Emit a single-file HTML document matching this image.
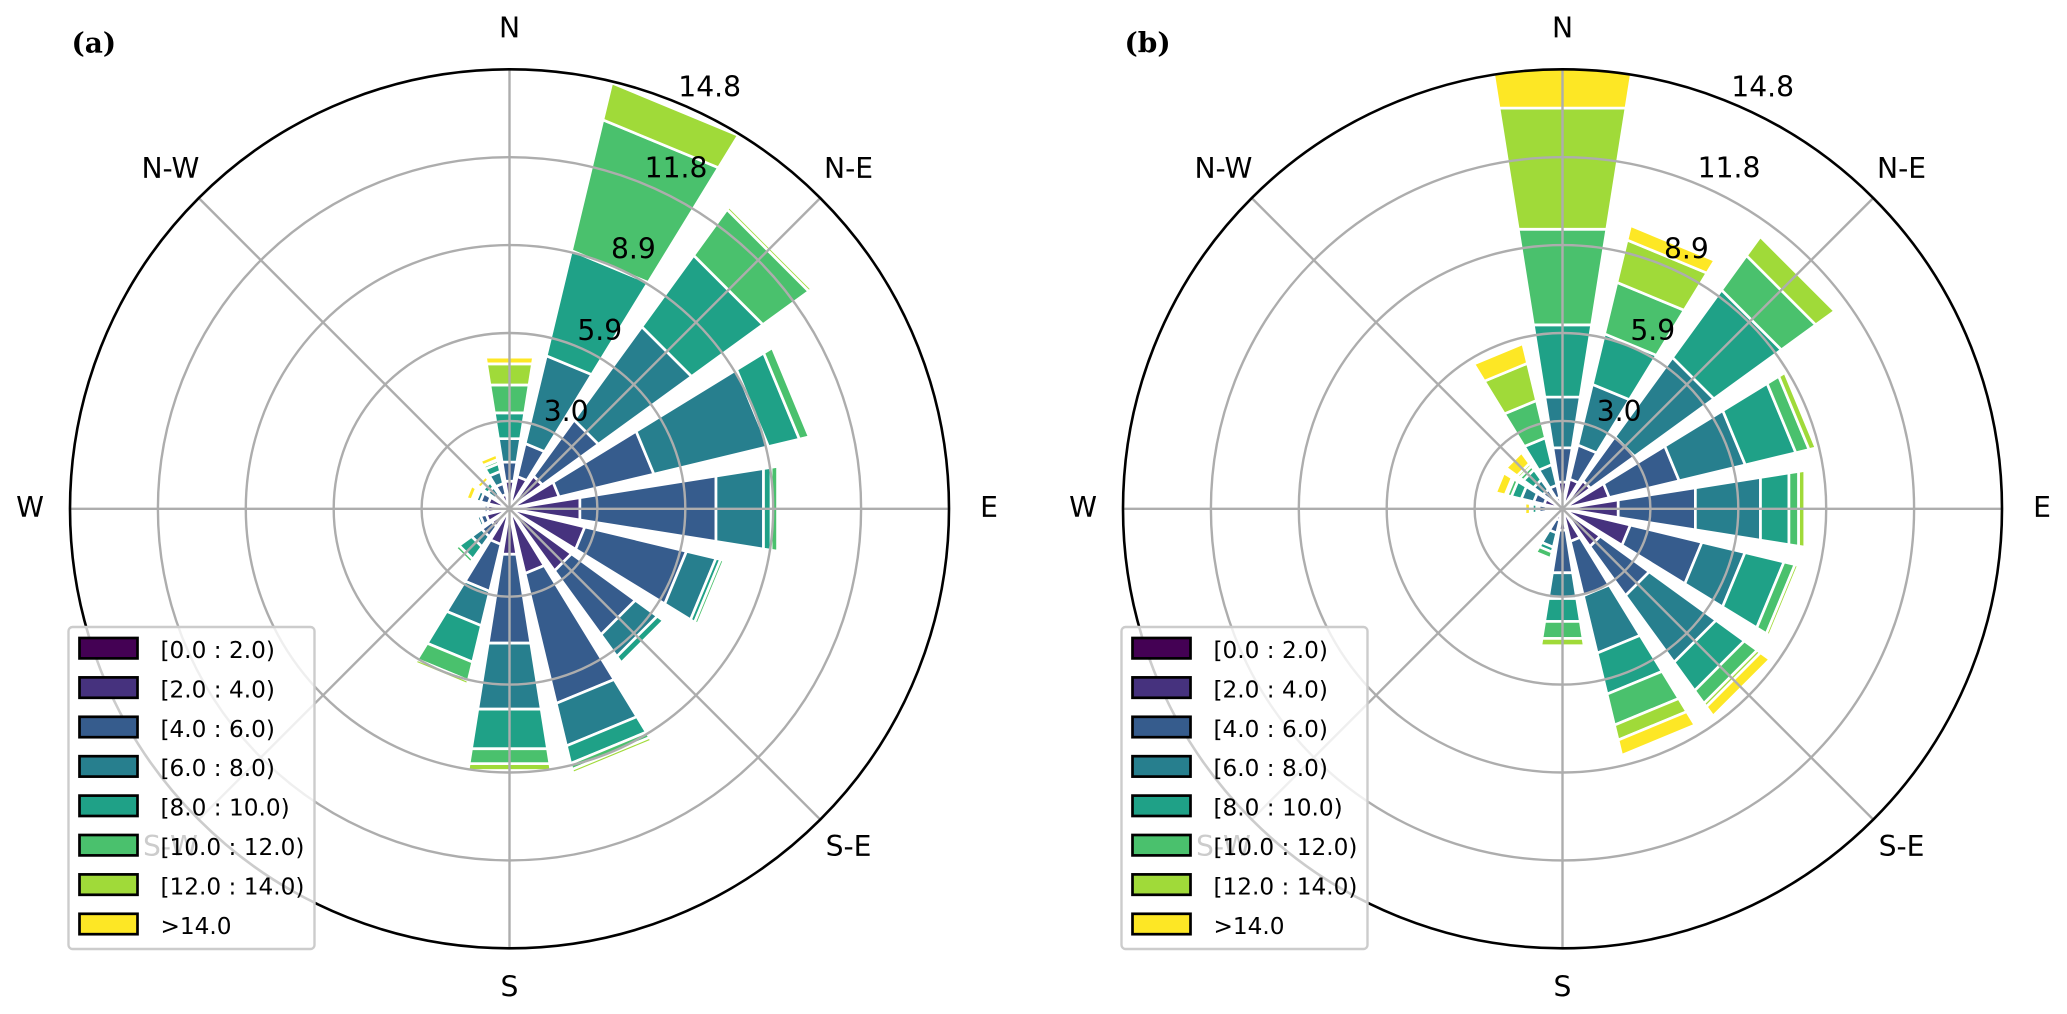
<!DOCTYPE html>
<html lang="en">
<head>
<meta charset="utf-8">
<title>Wind roses (a) and (b)</title>
<style>
html,body{margin:0;padding:0;background:#fff;}
svg{display:block;}
text{font-family:"DejaVu Sans","Liberation Sans",sans-serif;fill:#000;}
</style>
</head>
<body>
<svg id="chart" xmlns="http://www.w3.org/2000/svg" width="2067" height="1014" viewBox="0 0 2067 1014"></svg>
<script>
var directions = ["N","NNE","NE","ENE","E","ESE","SE","SSE","S","SSW","SW","WSW","W","WNW","NW","NNW"];
var speedBins = ["[0.0 : 2.0)","[2.0 : 4.0)","[4.0 : 6.0)","[6.0 : 8.0)","[8.0 : 10.0)","[10.0 : 12.0)","[12.0 : 14.0)",">14.0"];
var binColors = ["#440154","#46327e","#365c8d","#277f8e","#1fa187","#4ac16d","#a0da39","#fde725"];
var ringValues = [2.96,5.92,8.88,11.84,14.8];
var ringLabels = ["3.0","5.9","8.9","11.8","14.8"];
var compassLabels = ["N","N-E","E","S-E","S","S-W","W","N-W"];
var compassAngles = [0,45,90,135,180,225,270,315];

// Panel (a) frequency (%) per speed bin, ordered as in `directions`
var panelA0 = [.05,.1,.1,.1,.1,.1,.1,.1,.1,.1,.1,.1,.1,.1,.05,.05];
var panelA1 = [.89,1.02,1.27,1.62,2.3,2.51,2.48,2.14,1.45,1.13,.64,.71,.64,.64,.35,.45];
var panelA2 = [.65,1.14,2.33,3.28,4.64,3.52,2.66,4.5,3.03,1.63,.42,.2,.12,.27,.2,.38];
var panelA3 = [.8,3.04,3.88,3.97,1.62,1.02,.91,1.47,2.25,1.19,.42,.12,.03,.15,.31,.42];
var panelA4 = [.88,3.64,2.97,1.07,.26,.16,.26,.61,1.35,1.26,.52,.05,0,.07,.2,.27];
var panelA5 = [.95,4.53,1.91,.34,.22,.12,.03,.21,.51,.64,.14,0,0,.05,.05,.11];
var panelA6 = [.72,1.28,.12,0,0,0,0,.13,.23,.13,0,0,0,.03,.04,.03];
var panelA7 = [.23,0,0,0,0,0,0,0,0,0,0,0,0,.19,.16,.18];

// Panel (b) frequency (%) per speed bin, ordered as in `directions`
var panelB0 = [.05,.05,.05,.05,.05,.05,.05,.05,.05,.05,.02,.02,.05,.05,.05,.05];
var panelB1 = [.86,.98,1.12,1.57,1.85,2.3,1.52,1.08,.68,.35,0,0,.5,.59,.29,.35];
var panelB2 = [1.17,1.18,1.83,2.42,2.63,2.48,2.04,1.88,1.45,.44,0,0,.25,.36,.47,.42];
var panelB3 = [1.73,2.1,3.3,2.29,2.22,1.49,2.78,1.99,.88,.49,0,0,.08,.43,.4,.71];
var panelB4 = [2.46,1.75,2.81,1.75,.97,1.35,1.18,1.42,.78,.17,0,0,.15,.34,.42,.93];
var panelB5 = [3.26,1.78,1.43,.46,.33,.38,.53,1.07,.58,.22,0,0,.04,.15,.15,1.29];
var panelB6 = [4.13,1.47,.79,.24,.21,.12,.14,.52,.25,0,0,0,.03,.07,.11,1.29];
var panelB7 = [1.54,.5,0,0,0,0,.39,.53,0,0,0,0,.18,.33,.46,.68];

var panelASeries = [panelA0,panelA1,panelA2,panelA3,panelA4,panelA5,panelA6,panelA7];
var panelBSeries = [panelB0,panelB1,panelB2,panelB3,panelB4,panelB5,panelB6,panelB7];

var SVGNS = "http://www.w3.org/2000/svg";
var CY = 508.8, RMAX = 439.5, RDOMAIN = 14.8, BAR_DEG = 18;

function make(tag, attrs, parent) {
  var el = document.createElementNS(SVGNS, tag);
  for (var k in attrs) { el.setAttribute(k, attrs[k]); }
  parent.appendChild(el);
  return el;
}
function rScale(v) { return v / RDOMAIN * RMAX; }
function polar(cx, deg, r) {
  var t = deg * Math.PI / 180;
  return [cx + r * Math.sin(t), CY - r * Math.cos(t)];
}
function dirAngle(i) { return i * 360 / directions.length; }

function drawPanel(root, id, letter, cx, series) {
  var panel = make("g", {}, root);
  
  

  var defs = make("defs", {}, panel);
  var clip = make("clipPath", {id: "clip-" + id}, defs);
  make("circle", {cx: cx, cy: CY, r: RMAX}, clip);

  var bars = make("g", {"clip-path": "url(#clip-" + id + ")"}, panel);
  
  

  directions.forEach(function (dir, d) {
    var a = dirAngle(d), start = 0;
    series.forEach(function (values, b) {
      var v = values[d];
      if (!(v > 0)) { return; }
      var end = start + v;
      var p = [polar(cx, a - BAR_DEG / 2, rScale(start)), polar(cx, a + BAR_DEG / 2, rScale(start)),
               polar(cx, a + BAR_DEG / 2, rScale(end)), polar(cx, a - BAR_DEG / 2, rScale(end))];
      var seg = make("polygon", {
        points: p.map(function (q) { return q[0].toFixed(2) + "," + q[1].toFixed(2); }).join(" "),
        fill: binColors[b], stroke: "#fff", "stroke-width": 2.7, "stroke-linejoin": "miter"
      }, bars);
      
      
      start = end;
    });
  });

  ringValues.forEach(function (v, i) {
    var ring = make("circle", {cx: cx, cy: CY, r: rScale(v), fill: "none",
      stroke: i === ringValues.length - 1 ? "none" : "#adadad", "stroke-width": 2.4}, panel);
    
    
  });
  compassAngles.forEach(function (a) {
    var e = polar(cx, a, RMAX);
    var spoke = make("line", {x1: cx, y1: CY, x2: e[0], y2: e[1], stroke: "#adadad", "stroke-width": 2.4}, panel);
    
    
  });
  var outline = make("circle", {cx: cx, cy: CY, r: RMAX, fill: "none", stroke: "#000", "stroke-width": 2.6}, panel);
  
  

  ringValues.forEach(function (v, i) {
    var p = polar(cx, 22.5, rScale(v));
    var t = make("text", {x: p[0] + 0.6, y: p[1] - 6.5, "font-size": 28.2}, panel);
    t.textContent = ringLabels[i];
    
    
  });
  compassLabels.forEach(function (label, i) {
    var p = polar(cx, compassAngles[i], 479.5);
    var t = make("text", {x: p[0], y: p[1] + 8.2, "font-size": 28.2, "text-anchor": "middle"}, panel);
    t.textContent = label;
    
    
  });

  var tag = make("text", {x: cx - 438, y: 52.5, "font-size": 28, "font-weight": "bold"}, panel);
  tag.style.fontFamily = '"DejaVu Serif","Liberation Serif",serif';
  tag.textContent = "(" + letter + ")";
  
  

  var legend = make("g", {}, panel);
  
  
  var lx = cx - 509.5;
  var frame = make("rect", {x: lx + 68.5, y: 627, width: 246, height: 322, rx: 4, ry: 4,
    fill: "#fff", "fill-opacity": 0.8, stroke: "#ccc", "stroke-width": 2.4}, legend);
  
  
  speedBins.forEach(function (label, i) {
    var y = 638 + i * 39.4;
    var sw = make("rect", {x: lx + 79.5, y: y, width: 58, height: 20.4, fill: binColors[i], stroke: "#000", "stroke-width": 2.7}, legend);
    
    
    var t = make("text", {x: lx + 160.5, y: y + 20, "font-size": 23.2}, legend);
    t.textContent = label;
    
    
  });
}

var chart = document.getElementById("chart");
drawPanel(chart, "a", "a", 509.5, panelASeries);
drawPanel(chart, "b", "b", 1562.5, panelBSeries);
</script>
</body>
</html>
